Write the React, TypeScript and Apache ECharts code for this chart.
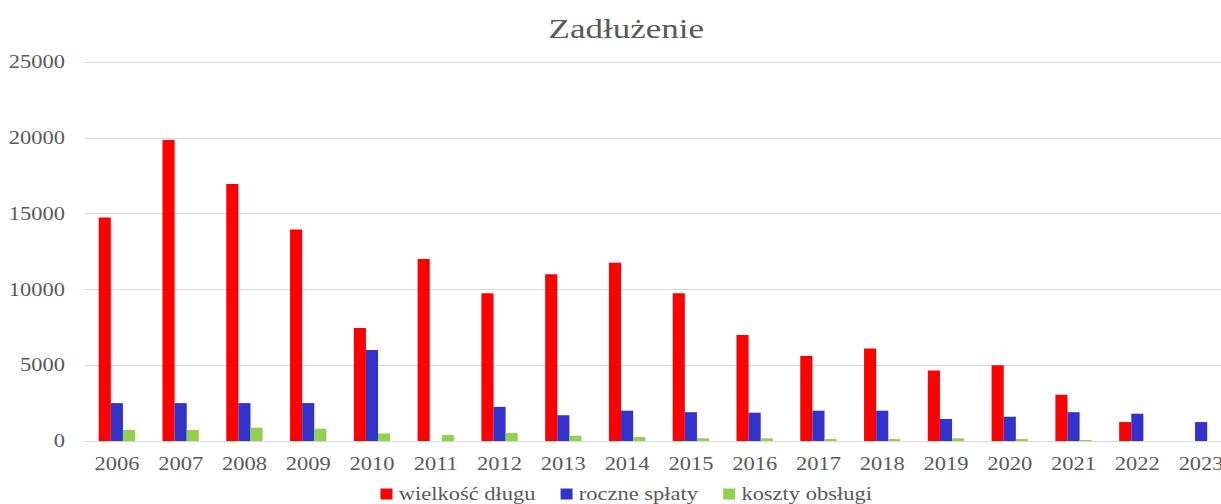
import React, { useEffect, useRef } from "react";
import * as echarts from "echarts";

const years = ["2006","2007","2008","2009","2010","2011","2012","2013","2014","2015","2016","2017","2018","2019","2020","2021","2022","2023"];
const wielkoscDlugu = [14750,19850,16950,13950,7450,12000,9750,11000,11750,9750,7000,5600,6100,4650,5000,3050,1250,0];
const roczneSplaty = [2500,2500,2500,2500,6000,0,2250,1700,2000,1900,1870,2000,2000,1450,1600,1900,1800,1250];
const kosztyObslugi = [730,730,880,810,500,400,530,350,260,180,180,130,130,180,130,70,0,0];

const STRETCH = 1.25;
const VW = 1002;
const FONT = "'Liberation Serif', 'Times New Roman', serif";
const TXT = "#595959";

export default function App() {
  const ref = useRef<HTMLDivElement>(null);
  useEffect(() => {
    if (!ref.current) return;
    const chart = echarts.init(ref.current, undefined, { renderer: "svg" });
    chart.setOption({
      animation: false,
      textStyle: { fontFamily: FONT },
      title: {
        text: "Zadłużenie",
        left: "center",
        top: 10,
        textStyle: { fontFamily: FONT, fontSize: 28, fontWeight: "normal", color: TXT },
      },
      legend: {
        bottom: -4,
        left: "center",
        itemWidth: 9.6,
        itemHeight: 11,
        itemGap: 20,
        icon: "rect",
        textStyle: { fontFamily: FONT, fontSize: 18, color: TXT },
        data: ["wielkość długu", "roczne spłaty", "koszty obsługi"],
      },
      grid: { left: 68, right: 15.6, top: 62, bottom: 63, containLabel: false },
      xAxis: {
        type: "category",
        data: years,
        axisLine: { lineStyle: { color: "#d9d9d9", width: 1 } },
        axisTick: { show: false },
        axisLabel: { color: TXT, fontFamily: FONT, fontSize: 18, margin: 14 },
      },
      yAxis: {
        type: "value",
        min: 0,
        max: 25000,
        interval: 5000,
        axisLine: { show: false },
        axisTick: { show: false },
        splitLine: { lineStyle: { color: "#d9d9d9", width: 1 } },
        axisLabel: { color: TXT, fontFamily: FONT, fontSize: 18, margin: 16, formatter: (v: number) => String(v) },
      },
      series: [
        { name: "wielkość długu", type: "bar", data: wielkoscDlugu, itemStyle: { color: "#FF0000" }, barGap: "0%", barCategoryGap: "43%" },
        { name: "roczne spłaty", type: "bar", data: roczneSplaty, itemStyle: { color: "#3333CC" }, barGap: "0%", barCategoryGap: "43%" },
        { name: "koszty obsługi", type: "bar", data: kosztyObslugi, itemStyle: { color: "#92D050" }, barGap: "0%", barCategoryGap: "43%" },
      ],
    });
    return () => chart.dispose();
  }, []);
  return (
    <div style={{ position: "fixed", left: 0, top: 0, width: 1221, height: 504, overflow: "hidden", background: "#fff" }}>
      <div
        ref={ref}
        style={{ width: VW, height: 504, transform: `scaleX(${STRETCH})`, transformOrigin: "0 0" }}
      />
    </div>
  );
}
